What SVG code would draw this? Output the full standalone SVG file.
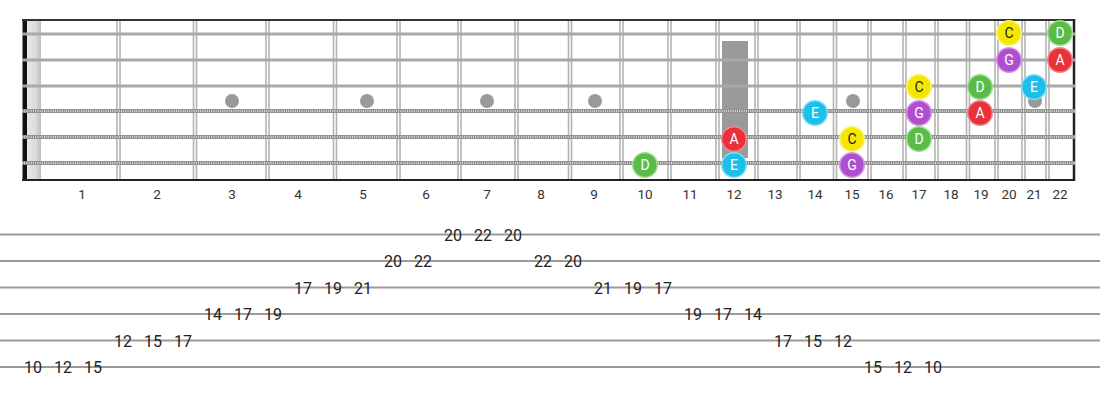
<svg xmlns="http://www.w3.org/2000/svg" width="1100" height="400" viewBox="0 0 1100 400">
<defs>
<style>
.fret{stroke:#b3b3b3;stroke-width:1.6}
.plain{stroke:#a8a8a8;stroke-width:3}
.wound{stroke:#8a8a8a;stroke-width:4}
.windings{stroke:#d8d8d8;stroke-width:2.4;stroke-dasharray:1 1.2}
.inlay{fill:#9a9a9a}
.fn{font-family:Roboto,"Liberation Sans",sans-serif;font-size:13.5px;fill:#333;text-anchor:middle}
.tabline{stroke:#9a9a9a;stroke-width:2}
.tab{font-family:Roboto,"Liberation Sans",sans-serif;font-size:16px;fill:#222;text-anchor:middle}
.note text{font-family:Roboto,"Liberation Sans",sans-serif;font-size:14px;text-anchor:middle;fill:#fff}
.red circle{fill:#e8313b;stroke:#f6888c;stroke-width:1.5}
.cyan circle{fill:#1cbfe9;stroke:#86dcf4;stroke-width:1.5}
.yellow circle{fill:#f6e700;stroke:#faf27a;stroke-width:1.5}
.yellow text{fill:#222}
.purple circle{fill:#b04ed0;stroke:#d598e8;stroke-width:1.5}
.green circle{fill:#5bbb49;stroke:#9fe08e;stroke-width:1.5}
</style>
<linearGradient id="nut" x1="0" x2="1" y1="0" y2="0">
<stop offset="0" stop-color="#e6e6e6"/>
<stop offset="0.6" stop-color="#dcdcdc"/>
<stop offset="1" stop-color="#bdbdbd"/>
</linearGradient>
</defs>
<rect width="1100" height="400" fill="#fff"/>
<g id="fretboard">
<rect x="27" y="20" width="14" height="160" fill="url(#nut)"/>
<rect x="22.5" y="19" width="4.5" height="162" fill="#111"/>
<g id="frets">
<path class="fret" d="M117,20V180M120,20V180M193.5,20V180M196.5,20V180M266,20V180M269,20V180M333.5,20V180M336.5,20V180M397,20V180M400,20V180M458,20V180M461,20V180M515,20V180M518,20V180M568.5,20V180M571.5,20V180M620,20V180M623,20V180M668,20V180M671,20V180M716,20V180M719,20V180M755,20V180M758,20V180M797,20V180M800,20V180M833.5,20V180M836.5,20V180M868,20V180M871,20V180M903,20V180M906,20V180M935,20V180M938,20V180M966.5,20V180M969.5,20V180M995,20V180M998,20V180M1022,20V180M1025,20V180M1046,20V180M1049,20V180"/>
</g>
<g id="inlays">
<circle class="inlay" cx="232" cy="101" r="7"/>
<circle class="inlay" cx="367" cy="101" r="7"/>
<circle class="inlay" cx="487" cy="101" r="7"/>
<circle class="inlay" cx="595" cy="101" r="7"/>
<rect class="inlay" x="722" y="41" width="26" height="117"/>
<circle class="inlay" cx="853" cy="101" r="7"/>
<circle class="inlay" cx="1035" cy="101" r="7"/>
</g>
<line x1="22" y1="20" x2="1075" y2="20" stroke="#333" stroke-width="2"/>
<line x1="22" y1="180" x2="1075" y2="180" stroke="#222" stroke-width="2"/>
<line x1="1074" y1="19" x2="1074" y2="181" stroke="#222" stroke-width="2.5"/>
<g id="strings">
<line class="plain" x1="22" y1="34" x2="1075" y2="34"/>
<line class="plain" x1="22" y1="60" x2="1075" y2="60"/>
<line class="plain" x1="22" y1="86" x2="1075" y2="86"/>
<line class="wound" x1="22" y1="111" x2="1075" y2="111"/>
<line class="windings" x1="22" y1="111" x2="1075" y2="111"/>
<line class="wound" x1="22" y1="137" x2="1075" y2="137"/>
<line class="windings" x1="22" y1="137" x2="1075" y2="137"/>
<line class="wound" x1="22" y1="163" x2="1075" y2="163"/>
<line class="windings" x1="22" y1="163" x2="1075" y2="163"/>
</g>
</g>
<g id="fret-numbers">
<text class="fn" x="82" y="199">1</text>
<text class="fn" x="157" y="199">2</text>
<text class="fn" x="232" y="199">3</text>
<text class="fn" x="298" y="199">4</text>
<text class="fn" x="363" y="199">5</text>
<text class="fn" x="426" y="199">6</text>
<text class="fn" x="487" y="199">7</text>
<text class="fn" x="541" y="199">8</text>
<text class="fn" x="594" y="199">9</text>
<text class="fn" x="645" y="199">10</text>
<text class="fn" x="690" y="199">11</text>
<text class="fn" x="734" y="199">12</text>
<text class="fn" x="775" y="199">13</text>
<text class="fn" x="815" y="199">14</text>
<text class="fn" x="852" y="199">15</text>
<text class="fn" x="886" y="199">16</text>
<text class="fn" x="919" y="199">17</text>
<text class="fn" x="951" y="199">18</text>
<text class="fn" x="981" y="199">19</text>
<text class="fn" x="1009" y="199">20</text>
<text class="fn" x="1034" y="199">21</text>
<text class="fn" x="1060" y="199">22</text>
</g>
<g id="notes">
<g id="n-D10" class="note green"><circle cx="645" cy="165" r="12.3"/><text x="645" y="170">D</text></g>
<g id="n-E12" class="note cyan"><circle cx="734" cy="165" r="12.3"/><text x="734" y="170">E</text></g>
<g id="n-A12" class="note red"><circle cx="734" cy="139" r="12.3"/><text x="734" y="144">A</text></g>
<g id="n-E14" class="note cyan"><circle cx="815" cy="113" r="12.3"/><text x="815" y="118">E</text></g>
<g id="n-C15" class="note yellow"><circle cx="852" cy="139" r="12.3"/><text x="852" y="144">C</text></g>
<g id="n-G15" class="note purple"><circle cx="852" cy="165" r="12.3"/><text x="852" y="170">G</text></g>
<g id="n-C17" class="note yellow"><circle cx="919" cy="87" r="12.3"/><text x="919" y="92">C</text></g>
<g id="n-G17" class="note purple"><circle cx="919" cy="113" r="12.3"/><text x="919" y="118">G</text></g>
<g id="n-D17" class="note green"><circle cx="919" cy="139" r="12.3"/><text x="919" y="144">D</text></g>
<g id="n-D19" class="note green"><circle cx="980" cy="87" r="12.3"/><text x="980" y="92">D</text></g>
<g id="n-A19" class="note red"><circle cx="980" cy="113" r="12.3"/><text x="980" y="118">A</text></g>
<g id="n-E21" class="note cyan"><circle cx="1034" cy="87" r="12.3"/><text x="1034" y="92">E</text></g>
<g id="n-C20" class="note yellow"><circle cx="1009" cy="33" r="12.3"/><text x="1009" y="38">C</text></g>
<g id="n-G20" class="note purple"><circle cx="1009" cy="60" r="12.3"/><text x="1009" y="65">G</text></g>
<g id="n-D22" class="note green"><circle cx="1060" cy="33" r="12.3"/><text x="1060" y="38">D</text></g>
<g id="n-A22" class="note red"><circle cx="1060" cy="60" r="12.3"/><text x="1060" y="65">A</text></g>
</g>
<g id="tab-lines">
<line class="tabline" x1="0" y1="234.5" x2="1100" y2="234.5"/>
<line class="tabline" x1="0" y1="261" x2="1100" y2="261"/>
<line class="tabline" x1="0" y1="287.5" x2="1100" y2="287.5"/>
<line class="tabline" x1="0" y1="314" x2="1100" y2="314"/>
<line class="tabline" x1="0" y1="340.5" x2="1100" y2="340.5"/>
<line class="tabline" x1="0" y1="367" x2="1100" y2="367"/>
</g>
<g id="tab-numbers">
<text class="tab" x="33" y="373">10</text>
<text class="tab" x="63" y="373">12</text>
<text class="tab" x="93" y="373">15</text>
<text class="tab" x="123" y="346.5">12</text>
<text class="tab" x="153" y="346.5">15</text>
<text class="tab" x="183" y="346.5">17</text>
<text class="tab" x="213" y="320">14</text>
<text class="tab" x="243" y="320">17</text>
<text class="tab" x="273" y="320">19</text>
<text class="tab" x="303" y="293.5">17</text>
<text class="tab" x="333" y="293.5">19</text>
<text class="tab" x="363" y="293.5">21</text>
<text class="tab" x="393" y="267">20</text>
<text class="tab" x="423" y="267">22</text>
<text class="tab" x="453" y="240.5">20</text>
<text class="tab" x="483" y="240.5">22</text>
<text class="tab" x="513" y="240.5">20</text>
<text class="tab" x="543" y="267">22</text>
<text class="tab" x="573" y="267">20</text>
<text class="tab" x="603" y="293.5">21</text>
<text class="tab" x="633" y="293.5">19</text>
<text class="tab" x="663" y="293.5">17</text>
<text class="tab" x="693" y="320">19</text>
<text class="tab" x="723" y="320">17</text>
<text class="tab" x="753" y="320">14</text>
<text class="tab" x="783" y="346.5">17</text>
<text class="tab" x="813" y="346.5">15</text>
<text class="tab" x="843" y="346.5">12</text>
<text class="tab" x="873" y="373">15</text>
<text class="tab" x="903" y="373">12</text>
<text class="tab" x="933" y="373">10</text>
</g>
</svg>
